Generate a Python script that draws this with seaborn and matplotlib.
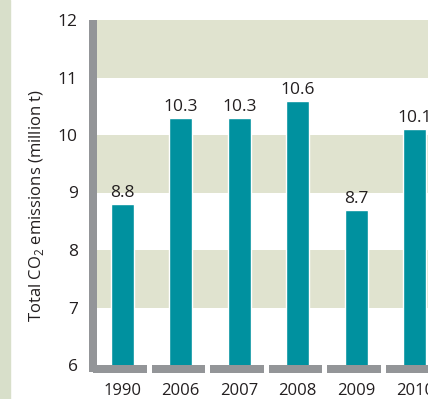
import numpy as np
import pandas as pd
import seaborn as sns
import matplotlib.pyplot as plt

years = ["1990", "2006", "2007", "2008", "2009", "2010"]
emissions = [8.8, 10.3, 10.3, 10.6, 8.7, 10.1]
y_ticks = [6, 7, 8, 9, 10, 11, 12]
band_ranges = [(7, 8), (9, 10), (11, 12)]

teal = "#00919F"
band = "#E0E3CF"
grey = "#939598"
txt = "#231F20"

sns.set_theme(style="white")
plt.rcParams["font.family"] = ["Open Sans", "DejaVu Sans"]
plt.rcParams["mathtext.fontset"] = "custom"
plt.rcParams["mathtext.rm"] = "Open Sans"

df = pd.DataFrame({"year": years, "value": emissions})

fig = plt.figure(figsize=(4.28, 3.99), dpi=100)
# light green strip on the far left
fig.patches.append(plt.Rectangle((0, 0), 10 / 428, 1, transform=fig.transFigure,
                                 color="#D8DFCA", zorder=0))
ax = fig.add_axes([93 / 428, 34 / 399, 351 / 428, 345 / 399])

for lo, hi in band_ranges:
    ax.axhspan(lo, hi, color=band, lw=0, zorder=0)

sns.barplot(data=df, x="year", y="value", color=teal, width=0.4,
            saturation=1, ax=ax, zorder=2)

for i, v in enumerate(emissions):
    ax.text(i, v + 0.05, f"{v:.1f}", ha="center", va="bottom",
            fontsize=12.5, color=txt)

ax.set_ylim(6, 12)
ax.set_xlim(-0.5, len(years) - 0.5)
ax.set_yticks(y_ticks)
ax.set_xlabel("")
ax.set_ylabel("Total CO$_\\mathregular{2}$ emissions (million t)", fontsize=12,
              color=txt)
ax.yaxis.set_label_coords(-0.135, 0.463)
ax.tick_params(axis="y", length=0, pad=11, labelsize=12.5, labelcolor=txt)
ax.tick_params(axis="x", length=0, pad=13, labelsize=12, labelcolor=txt)

for s in ["top", "right", "bottom"]:
    ax.spines[s].set_visible(False)
ax.spines["left"].set_color(grey)
ax.spines["left"].set_linewidth(5.76)
ax.spines["left"].set_capstyle("butt")
ax.spines["left"].set_bounds(5.88, 12)
ax.spines["left"].set_zorder(3)

# segmented baseline under each category
for i in range(len(years)):
    ax.hlines(-0.012, i - 0.5, i + 0.42, transform=ax.get_xaxis_transform(),
              color=grey, lw=5.76, clip_on=False, zorder=3)

fig.savefig("out.png", dpi=100)
